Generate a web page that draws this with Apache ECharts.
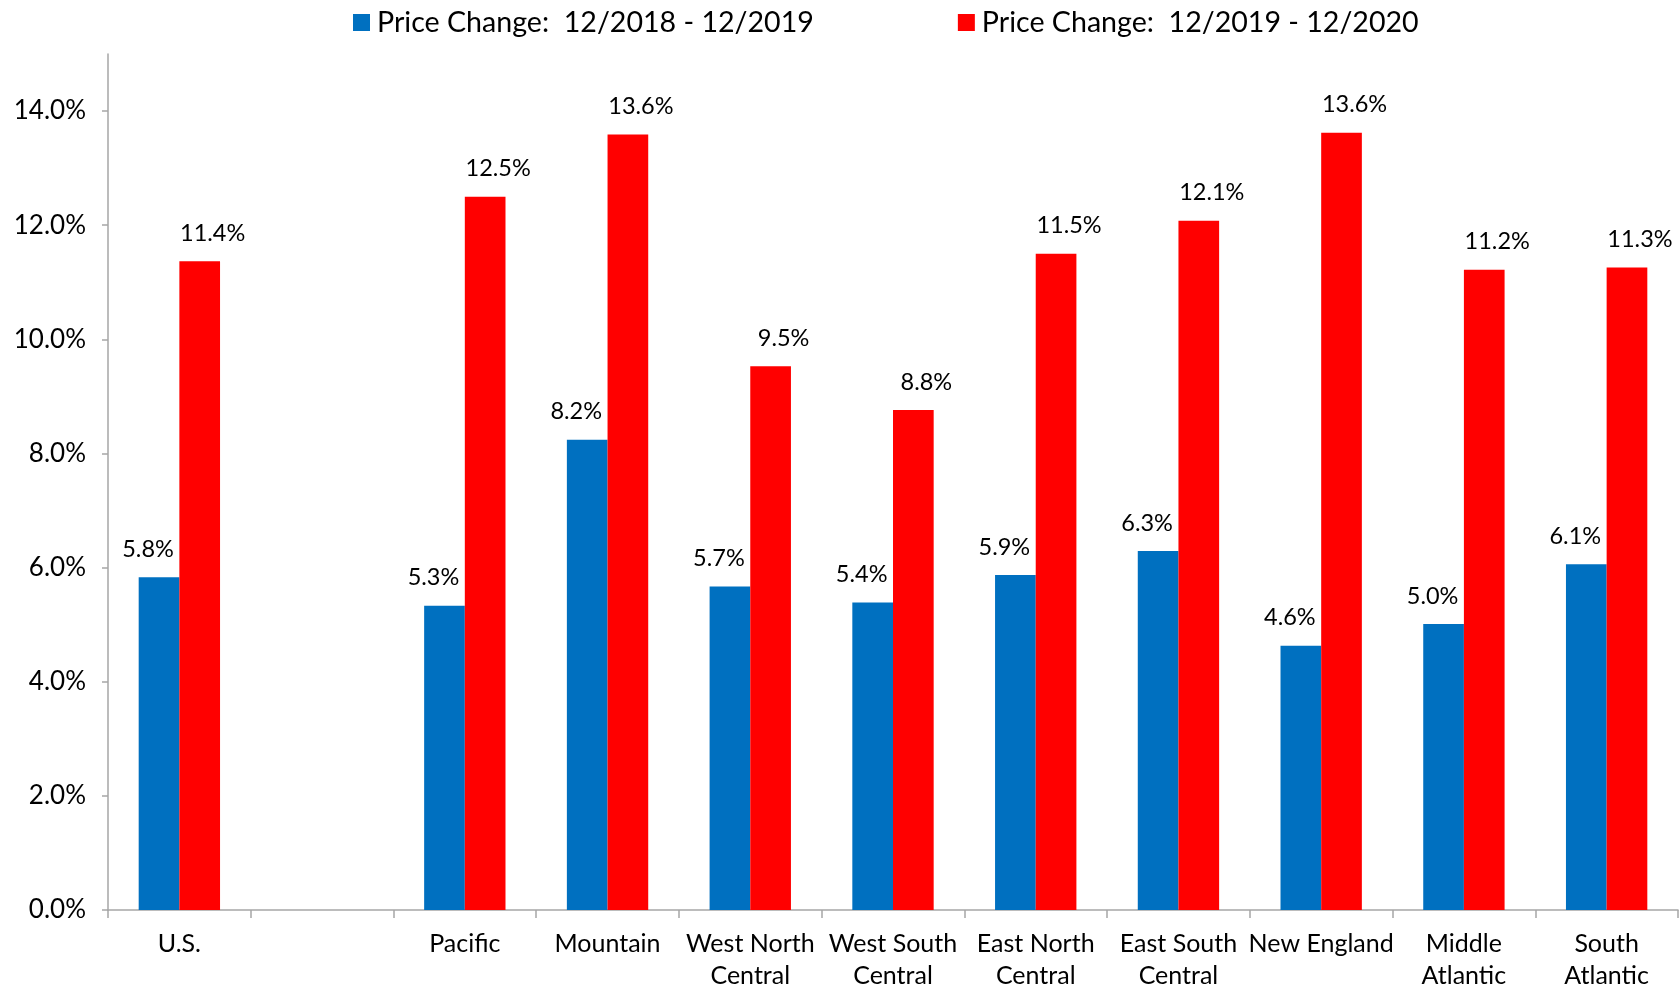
<!DOCTYPE html>
<html><head><meta charset="utf-8">
<script src="https://cdn.jsdelivr.net/npm/echarts@6/dist/echarts.min.js"></script>
<style>html,body{margin:0;padding:0;background:#fff}#c{width:1680px;height:992px}</style>
</head><body><div id="c"></div>
<script>
const categories = ['U.S.', '', 'Pacific', 'Mountain', 'West North\nCentral', 'West South\nCentral', 'East North\nCentral', 'East South\nCentral', 'New England', 'Middle\nAtlantic', 'South\nAtlantic'];
const series2019 = [5.83, null, 5.33, 8.24, 5.67, 5.39, 5.87, 6.29, 4.63, 5.01, 6.06];
const series2020 = [11.37, null, 12.50, 13.59, 9.53, 8.76, 11.50, 12.08, 13.62, 11.22, 11.26];
const seriesNames = ['Price Change:  12/2018 - 12/2019', 'Price Change:  12/2019 - 12/2020'];
const yTicks = { min: 0, max: 15, interval: 2 };

const FONT = 'Lato';
const chart = echarts.init(document.getElementById('c'));
const mkLabel = (dx) => ({
  show: true, position: 'top', distance: 16, offset: [dx, 0],
  fontFamily: FONT, fontSize: 23.5, color: '#000',
  formatter: p => p.value == null ? '' : p.value.toFixed(1) + '%'
});
chart.setOption({
  animation: false,
  textStyle: { fontFamily: FONT },
  legend: {
    left: 348, top: 3, itemWidth: 17, itemHeight: 17, itemGap: 144,
    icon: 'rect',
    textStyle: { fontFamily: FONT, fontSize: 28.6, color: '#000', padding: [0, 0, 0, 2] },
    data: seriesNames
  },
  grid: { left: 108, right: 2, top: 54, bottom: 82, containLabel: false },
  xAxis: {
    type: 'category', data: categories,
    axisLine: { lineStyle: { color: '#a6a6a6', width: 1.5 } },
    axisTick: { show: true, length: 8, lineStyle: { color: '#a6a6a6', width: 1.5 } },
    axisLabel: { interval: 0, margin: 18, fontFamily: FONT, fontSize: 25, color: '#000', lineHeight: 32 }
  },
  yAxis: {
    type: 'value', min: yTicks.min, max: yTicks.max, interval: yTicks.interval,
    splitLine: { show: false },
    axisLine: { show: true, lineStyle: { color: '#a6a6a6', width: 1.5 } },
    axisTick: { show: true, length: 6, lineStyle: { color: '#a6a6a6', width: 1.5 } },
    axisLabel: { margin: 22, showMaxLabel: false, fontFamily: FONT, fontSize: 26, color: '#000',
      formatter: v => v.toFixed(1) + '%' }
  },
  series: [
    { name: seriesNames[0], type: 'bar', data: series2019, barWidth: '28.5%', barGap: '0%',
      itemStyle: { color: '#0070C0' }, label: mkLabel(-11) },
    { name: seriesNames[1], type: 'bar', data: series2020, barWidth: '28.5%', barGap: '0%',
      itemStyle: { color: '#FF0000' }, label: mkLabel(13) }
  ]
});
</script></body></html>
